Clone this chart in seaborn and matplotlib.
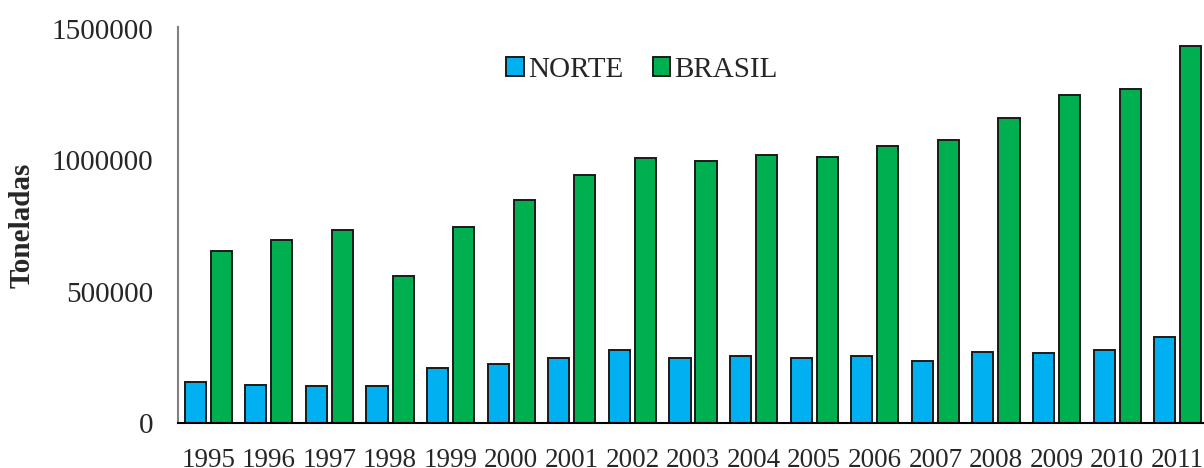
import pandas as pd
import matplotlib
matplotlib.use("Agg")
import matplotlib.pyplot as plt
import seaborn as sns

# values (tonnes)
years = [str(y) for y in range(1995, 2012)]
norte = [155000, 146000, 140000, 140000, 209000, 225000, 247000, 278000, 247000,
         255000, 247000, 255000, 236000, 271000, 265000, 277000, 329000]
brasil = [655000, 697000, 735000, 560000, 746000, 849000, 944000, 1009000, 997000,
          1020000, 1013000, 1055000, 1077000, 1162000, 1249000, 1272000, 1435000]
series_names = ["NORTE", "BRASIL"]
colors = ["#00B0F0", "#00B050"]

df = pd.DataFrame({
    "ano": years * 2,
    "valor": norte + brasil,
    "regiao": [series_names[0]] * len(years) + [series_names[1]] * len(years),
})

sns.set_style("white")
plt.rcParams["font.family"] = ["Liberation Serif", "DejaVu Serif"]

fig = plt.figure(figsize=(12.04, 4.68), dpi=100)
ax = fig.add_axes([178 / 1204, 1 - 423 / 468, 1030 / 1204, 396 / 468])

sns.barplot(data=df, x="ano", y="valor", hue="regiao", palette=colors,
            width=0.86, gap=0.19, edgecolor="#1a1a1a", linewidth=1.4,
            saturation=1, ax=ax)

ax.set_xlim(-0.5, len(years) - 0.5)
ax.set_ylim(0, 1500000 * 396 / 394)
ax.set_yticks([0, 500000, 1000000, 1500000])
ax.set_yticklabels(["0", "500000", "1000000", "1500000"])
ax.tick_params(axis="y", length=0, pad=18, labelsize=21)
ax.tick_params(axis="x", length=0, pad=18, labelsize=19.5)
ax.set_xlabel("")
ax.set_ylabel("Toneladas", fontsize=21, fontweight="bold")
ax.yaxis.set_label_coords(-142 / 1030, 0.5)

for side in ["top", "right"]:
    ax.spines[side].set_visible(False)
ax.spines["left"].set_color("#7f7f7f")
ax.spines["left"].set_linewidth(1.5)
ax.spines["bottom"].set_color("black")
ax.spines["bottom"].set_linewidth(1.5)

ax.legend(loc="center", bbox_to_anchor=(642 / 1204, 1 - 70 / 468),
          bbox_transform=fig.transFigure, ncol=2, frameon=False,
          fontsize=21, handlelength=0.6, handleheight=0.6,
          handletextpad=0.15, columnspacing=1.0, borderpad=0)

fig.savefig("out.png", dpi=100)
